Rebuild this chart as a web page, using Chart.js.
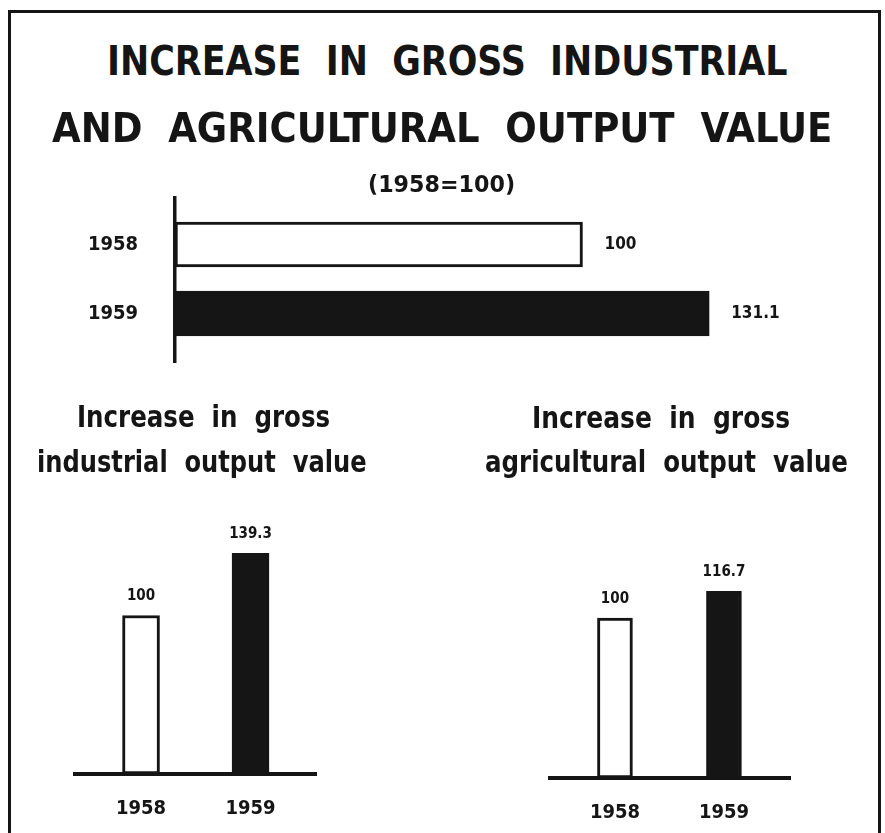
<!DOCTYPE html>
<html>
<head>
<meta charset="utf-8">
<script src="https://cdn.jsdelivr.net/npm/chart.js@4/dist/chart.umd.min.js"></script>
<style>
  html, body { margin:0; padding:0; background:#fff; }
  body { width:885px; height:833px; position:relative; overflow:hidden; }
  .frame { position:absolute; left:8px; top:10px; width:873px; height:900px;
           border:3.5px solid #151515; box-sizing:border-box; }
  canvas { position:absolute; }
  .txt { position:absolute; white-space:pre; display:inline-block; color:#151515;
         font-family:'DejaVu Sans Condensed','DejaVu Sans',sans-serif; font-weight:bold;
         line-height:1; transform-origin:0 0; }
  .probe { display:inline-block; width:0; height:0; vertical-align:baseline; }
</style>
</head>
<body>
<div class="frame"></div>
<canvas id="topChart" width="885" height="274" style="left:0;top:143px;width:885px;height:274px"></canvas>
<canvas id="indChart" width="442" height="383" style="left:0;top:450px;width:442px;height:383px"></canvas>
<canvas id="agrChart" width="443" height="383" style="left:442px;top:450px;width:443px;height:383px"></canvas>
<script>
// ---- data ----
const years = ['1958', '1959'];
const totalValues = [100, 131.1];        // gross industrial + agricultural output (1958=100)
const industrialValues = [100, 139.3];   // gross industrial output value
const agriculturalValues = [100, 116.7]; // gross agricultural output value
const titleLines = ['INCREASE  IN  GROSS  INDUSTRIAL', 'AND  AGRICULTURAL  OUTPUT  VALUE', '(1958=100)'];
const industrialTitle = ['Increase  in  gross', 'industrial  output  value'];
const agriculturalTitle = ['Increase  in  gross', 'agricultural  output  value'];

// ---- styles ----
const INK = '#151515';
const fills = ['#ffffff', INK];
const FONT = "'DejaVu Sans Condensed','DejaVu Sans',sans-serif";

// ---- text placement (fit to width, align on baseline) ----
function placeText(str, size, left, right, baseline) {
  const el = document.createElement('div');
  el.className = 'txt';
  el.style.fontSize = size + 'px';
  el.textContent = str;
  const probe = document.createElement('span');
  probe.className = 'probe';
  el.appendChild(probe);
  document.body.appendChild(el);
  const natural = el.offsetWidth;
  const k = (right - left) / natural;
  el.style.transform = 'scaleX(' + k + ')';
  el.style.left = left + 'px';
  el.style.top = (baseline - probe.offsetTop) + 'px';
}
placeText(titleLines[0], 41, 107, 788, 75);
placeText(titleLines[1], 41, 52, 832, 142);
placeText(titleLines[2], 23, 368, 515, 192);
placeText(industrialTitle[0], 31, 77, 330, 427);
placeText(industrialTitle[1], 31, 37, 367, 472);
placeText(agriculturalTitle[0], 31, 532, 790, 428);
placeText(agriculturalTitle[1], 31, 485, 848, 472);

// ---- value label plugin ----
const valueLabels = {
  id: 'valueLabels',
  afterDatasetsDraw(chart, args, opts) {
    const ctx = chart.ctx;
    const meta = chart.getDatasetMeta(0);
    ctx.save();
    ctx.fillStyle = INK;
    ctx.font = opts.font;
    ctx.textBaseline = 'middle';
    meta.data.forEach((el, i) => {
      const label = String(opts.values[i]);
      if (opts.horizontal) {
        ctx.textAlign = 'left';
        ctx.fillText(label, el.x + opts.offset, el.y);
      } else {
        ctx.textAlign = 'center';
        ctx.fillText(label, el.x, el.y - opts.offset);
      }
    });
    ctx.restore();
  }
};

const twoTicks = (s) => { s.ticks = years.map((_, i) => ({ value: i })); };
const tickFont = { family: FONT, weight: 'bold', size: 20 };

// ---- top: horizontal bars ----
new Chart(document.getElementById('topChart'), {
  type: 'bar',
  data: {
    datasets: [{
      data: totalValues.map((v, i) => ({ x: v, y: i })),
      backgroundColor: fills, borderColor: INK, borderWidth: 3,
      borderSkipped: false, barThickness: 45
    }]
  },
  options: {
    indexAxis: 'y', responsive: false, animation: false, devicePixelRatio: 1,
    layout: { padding: { top: 55, bottom: 55, left: 0, right: 58 } },
    plugins: {
      legend: { display: false }, tooltip: { enabled: false },
      valueLabels: { values: totalValues, horizontal: true, offset: 22, font: "bold 17px " + FONT }
    },
    scales: {
      x: { type: 'linear', display: false, min: 0, max: 160 },
      y: {
        type: 'linear', reverse: true, offset: false, min: -0.674, max: 1.703,
        afterFit: (s) => { s.width = 175; },
        afterBuildTicks: twoTicks,
        ticks: { callback: (v) => years[v], padding: 29, font: tickFont, color: INK },
        grid: { display: false, offset: false },
        border: { display: true, color: INK, width: 3.5 }
      }
    }
  },
  plugins: [valueLabels]
});

// ---- bottom: vertical bars ----
function columnChart(id, values, pad, xMin, xMax, axisH, thickness) {
  new Chart(document.getElementById(id), {
    type: 'bar',
    data: {
      datasets: [{
        data: values.map((v, i) => ({ x: i, y: v })),
        backgroundColor: fills, borderColor: INK, borderWidth: 3,
        borderSkipped: false, barThickness: thickness
      }]
    },
    options: {
      responsive: false, animation: false, devicePixelRatio: 1,
      layout: { padding: pad },
      plugins: {
        legend: { display: false }, tooltip: { enabled: false },
        valueLabels: { values: values, horizontal: false, offset: 19, font: "bold 15px " + FONT }
      },
      scales: {
        x: {
          type: 'linear', offset: false, min: xMin, max: xMax,
          afterFit: (s) => { s.height = axisH; },
          afterBuildTicks: twoTicks,
          ticks: { callback: (v) => years[v], padding: 15, font: tickFont, color: INK },
          grid: { display: false, offset: false },
          border: { display: true, color: INK, width: 4 }
        },
        y: { display: false, min: 0, max: 200 }
      }
    },
    plugins: [valueLabels]
  });
}
columnChart('indChart', industrialValues, { left: 75, right: 126, top: 7, bottom: 0 }, -0.603, 1.598, 59, 37);
columnChart('agrChart', agriculturalValues, { left: 108, right: 95, top: 8, bottom: 0 }, -0.596, 1.606, 55, 35);
</script>
</body>
</html>
